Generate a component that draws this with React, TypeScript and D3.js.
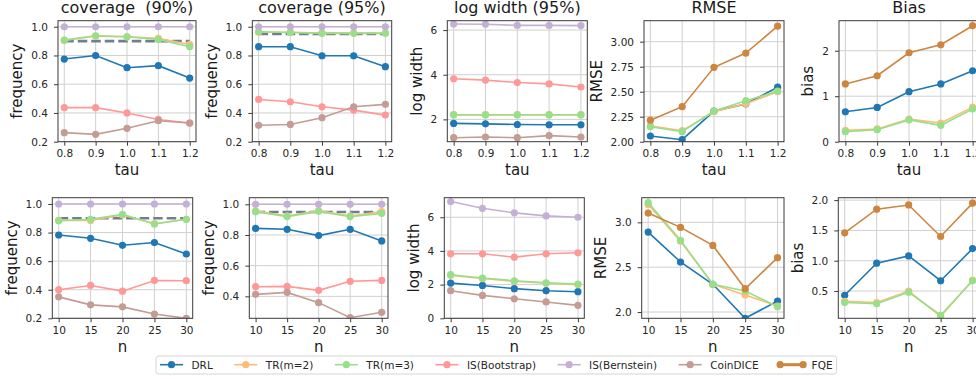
import React, { useEffect, useRef } from 'react';
import * as d3 from 'd3';

const W = 976;
const H = 379;
const FONT = '"DejaVu Sans", Verdana, sans-serif';

const methods = ['DRL', 'TR(m=2)', 'TR(m=3)', 'IS(Bootstrap)', 'IS(Bernstein)', 'CoinDICE', 'FQE'];
const colors = ['#1f77b4', '#ffbb78', '#98df8a', '#ff9896', '#c5b0d5', '#c49c94', '#cd853f'];

const tauValues = [0.8, 0.9, 1.0, 1.1, 1.2];
const nValues = [10, 15, 20, 25, 30];

// series order: DRL, TR(m=2), TR(m=3), IS(Bootstrap), IS(Bernstein), CoinDICE
const cov90Tau = [
  [0.775, 0.8, 0.715, 0.729, 0.643],
  [0.905, 0.935, 0.93, 0.919, 0.877],
  [0.907, 0.937, 0.93, 0.912, 0.861],
  [0.437, 0.437, 0.4, 0.355, 0.33],
  [1, 1, 1, 1, 1],
  [0.263, 0.251, 0.293, 0.346, 0.33],
];
const cov95Tau = [
  [0.861, 0.861, 0.798, 0.798, 0.722],
  [0.962, 0.962, 0.956, 0.956, 0.956],
  [0.965, 0.96, 0.954, 0.954, 0.954],
  [0.494, 0.478, 0.443, 0.42, 0.385],
  [1, 1, 1, 1, 1],
  [0.314, 0.32, 0.367, 0.443, 0.46],
];
const widthTau = [
  [1.82, 1.8, 1.77, 1.76, 1.76],
  [2.2, 2.2, 2.2, 2.2, 2.2],
  [2.21, 2.21, 2.21, 2.21, 2.21],
  [3.82, 3.76, 3.65, 3.59, 3.45],
  [6.27, 6.26, 6.21, 6.21, 6.2],
  [1.18, 1.21, 1.18, 1.27, 1.21],
];
// series order: DRL, TR(m=2), TR(m=3), FQE
const rmseTau = [
  [2.057, 2.02, 2.306, 2.377, 2.545],
  [2.16, 2.11, 2.3, 2.38, 2.5],
  [2.15, 2.1, 2.306, 2.41, 2.505],
  [2.215, 2.35, 2.744, 2.886, 3.155],
];
const biasTau = [
  [0.657, 0.753, 1.1, 1.27, 1.56],
  [0.25, 0.28, 0.495, 0.41, 0.76],
  [0.22, 0.265, 0.48, 0.36, 0.72],
  [1.27, 1.45, 1.955, 2.13, 2.55],
];

const cov90N = [
  [0.783, 0.76, 0.711, 0.73, 0.65],
  [0.885, 0.885, 0.923, 0.862, 0.893],
  [0.883, 0.893, 0.928, 0.86, 0.893],
  [0.4, 0.43, 0.39, 0.465, 0.463],
  [1, 1, 1, 1, 1],
  [0.35, 0.294, 0.28, 0.23, 0.2],
];
const cov95N = [
  [0.843, 0.837, 0.796, 0.837, 0.761],
  [0.957, 0.924, 0.959, 0.924, 0.952],
  [0.952, 0.92, 0.954, 0.92, 0.941],
  [0.463, 0.465, 0.439, 0.498, 0.504],
  [1, 1, 1, 1, 1],
  [0.413, 0.426, 0.359, 0.261, 0.296],
];
const widthN = [
  [2.09, 1.95, 1.76, 1.64, 1.58],
  [2.55, 2.36, 2.2, 2.08, 2.0],
  [2.59, 2.39, 2.23, 2.11, 2.03],
  [3.83, 3.83, 3.63, 3.83, 3.89],
  [6.93, 6.53, 6.26, 6.08, 6.0],
  [1.64, 1.36, 1.16, 0.97, 0.77],
];
const rmseN = [
  [2.892, 2.558, 2.309, 1.93, 2.123],
  [3.2, 2.79, 2.31, 2.19, 2.067],
  [3.22, 2.8, 2.31, 2.235, 2.06],
  [3.104, 2.944, 2.743, 2.26, 2.606],
];
const biasN = [
  [0.43, 0.96, 1.08, 0.67, 1.2],
  [0.33, 0.31, 0.5, 0.08, 0.68],
  [0.31, 0.29, 0.48, 0.1, 0.67],
  [1.46, 1.85, 1.92, 1.4, 1.95],
];

const coverageMethods = [0, 1, 2, 3, 4, 5];
const errorMethods = [0, 1, 2, 6];

interface Panel {
  box: [number, number, number, number]; // left, right, top, bottom
  x: number[];
  xDomain: [number, number];
  xFmt: string;
  yDomain: [number, number];
  yTicks: number[];
  yFmt: string;
  title?: string;
  ylabel: string;
  xlabel: string;
  series: number[][];
  ids: number[];
  target?: number;
}

const TOP: [number, number] = [20.7, 141.7];
const BOT: [number, number] = [197.7, 318.3];
const tauDom: [number, number] = [0.78, 1.22];
const nDom: [number, number] = [9, 31];
const freqTicks = [0.2, 0.4, 0.6, 0.8, 1.0];

const panels: Panel[] = [
  { box: [58, 196, ...TOP], x: tauValues, xDomain: tauDom, xFmt: '.1f', yDomain: [0.2, 1.042], yTicks: freqTicks, yFmt: '.1f', title: 'coverage  (90%)', ylabel: 'frequency', xlabel: 'tau', series: cov90Tau, ids: coverageMethods, target: 0.9 },
  { box: [252.3, 391.7, ...TOP], x: tauValues, xDomain: tauDom, xFmt: '.1f', yDomain: [0.2, 1.042], yTicks: freqTicks, yFmt: '.1f', title: 'coverage (95%)', ylabel: 'frequency', xlabel: 'tau', series: cov95Tau, ids: coverageMethods, target: 0.95 },
  { box: [447.3, 587.3, ...TOP], x: tauValues, xDomain: tauDom, xFmt: '.1f', yDomain: [1.0, 6.42], yTicks: [2, 4, 6], yFmt: 'd', title: 'log width (95%)', ylabel: 'log width', xlabel: 'tau', series: widthTau, ids: coverageMethods },
  { box: [644, 784, ...TOP], x: tauValues, xDomain: tauDom, xFmt: '.1f', yDomain: [2.0, 3.21], yTicks: [2.0, 2.25, 2.5, 2.75, 3.0], yFmt: '.2f', title: 'RMSE', ylabel: 'RMSE', xlabel: 'tau', series: rmseTau, ids: errorMethods },
  { box: [839, 979, ...TOP], x: tauValues, xDomain: tauDom, xFmt: '.1f', yDomain: [0, 2.66], yTicks: [0, 1, 2], yFmt: 'd', title: 'Bias', ylabel: 'bias', xlabel: 'tau', series: biasTau, ids: errorMethods },
  { box: [52.3, 192.7, ...BOT], x: nValues, xDomain: nDom, xFmt: 'd', yDomain: [0.2, 1.044], yTicks: freqTicks, yFmt: '.1f', ylabel: 'frequency', xlabel: 'n', series: cov90N, ids: coverageMethods, target: 0.9 },
  { box: [249.3, 388, ...BOT], x: nValues, xDomain: nDom, xFmt: 'd', yDomain: [0.257, 1.043], yTicks: [0.4, 0.6, 0.8, 1.0], yFmt: '.1f', ylabel: 'frequency', xlabel: 'n', series: cov95N, ids: coverageMethods, target: 0.95 },
  { box: [444.3, 584.3, ...BOT], x: nValues, xDomain: nDom, xFmt: 'd', yDomain: [0, 7.16], yTicks: [0, 2, 4, 6], yFmt: 'd', ylabel: 'log width', xlabel: 'n', series: widthN, ids: coverageMethods },
  { box: [641.7, 784, ...BOT], x: nValues, xDomain: nDom, xFmt: 'd', yDomain: [1.93, 3.275], yTicks: [2.0, 2.5, 3.0], yFmt: '.1f', ylabel: 'RMSE', xlabel: 'n', series: rmseN, ids: errorMethods },
  { box: [838.3, 979, ...BOT], x: nValues, xDomain: nDom, xFmt: 'd', yDomain: [0.05, 2.04], yTicks: [0.5, 1.0, 1.5, 2.0], yFmt: '.1f', ylabel: 'bias', xlabel: 'n', series: biasN, ids: errorMethods },
];

export default function App() {
  const svgRef = useRef<SVGSVGElement>(null);

  useEffect(() => {
    if (!svgRef.current) return;
    document.body.style.margin = '0';
    const svg = d3.select(svgRef.current);
    svg.selectAll('*').remove();

    svg.append('rect').attr('width', W).attr('height', H).attr('fill', '#fff');

    panels.forEach((p, pi) => {
      const [l, r, t, b] = p.box;
      const xScale = d3.scaleLinear().domain(p.xDomain).range([l, r]);
      const yScale = d3.scaleLinear().domain(p.yDomain).range([b, t]);
      const g = svg.append('g');

      const clipId = `clip-${pi}`;
      svg.append('clipPath').attr('id', clipId)
        .append('rect').attr('x', l).attr('y', t).attr('width', r - l).attr('height', b - t);

      // grid
      g.append('g').selectAll('line').data(p.x).join('line')
        .attr('x1', d => xScale(d)).attr('x2', d => xScale(d))
        .attr('y1', t).attr('y2', b)
        .attr('stroke', '#d0d0d0').attr('stroke-width', 1);
      g.append('g').selectAll('line').data(p.yTicks).join('line')
        .attr('x1', l).attr('x2', r)
        .attr('y1', d => yScale(d)).attr('y2', d => yScale(d))
        .attr('stroke', '#d0d0d0').attr('stroke-width', 1);

      const plot = g.append('g').attr('clip-path', `url(#${clipId})`);

      if (p.target !== undefined) {
        plot.append('line')
          .attr('x1', xScale(p.x[0])).attr('x2', xScale(p.x[p.x.length - 1]))
          .attr('y1', yScale(p.target)).attr('y2', yScale(p.target))
          .attr('stroke', '#6f7f8f').attr('stroke-width', 2.6)
          .attr('stroke-dasharray', '9.5,4');
      }

      const line = d3.line<number>()
        .x((_, i) => xScale(p.x[i]))
        .y(d => yScale(d));

      p.series.forEach((vals, si) => {
        const c = colors[p.ids[si]];
        plot.append('path').datum(vals)
          .attr('d', line).attr('fill', 'none')
          .attr('stroke', c).attr('stroke-width', 1.6);
        plot.append('g').selectAll('circle').data(vals).join('circle')
          .attr('cx', (_, i) => xScale(p.x[i])).attr('cy', d => yScale(d))
          .attr('r', 3.6).attr('fill', c);
      });

      // spines
      g.append('rect').attr('x', l).attr('y', t).attr('width', r - l).attr('height', b - t)
        .attr('fill', 'none').attr('stroke', '#3a3a3a').attr('stroke-width', 1);

      // axes
      const xAxis = g.append('g').attr('transform', `translate(0,${b})`)
        .call(d3.axisBottom(xScale).tickValues(p.x).tickFormat(d3.format(p.xFmt) as any).tickSizeOuter(0).tickSize(4).tickPadding(4));
      const yAxis = g.append('g').attr('transform', `translate(${l},0)`)
        .call(d3.axisLeft(yScale).tickValues(p.yTicks).tickFormat(d3.format(p.yFmt) as any).tickSizeOuter(0).tickSize(4).tickPadding(6));
      [xAxis, yAxis].forEach(ax => {
        ax.select('.domain').remove();
        ax.attr('font-family', FONT).attr('font-size', 10.5);
        ax.selectAll('line').attr('stroke', '#3a3a3a');
        ax.selectAll('text').attr('fill', '#262626');
      });

      let maxW = 0;
      yAxis.selectAll<SVGTextElement, unknown>('text').each(function () {
        maxW = Math.max(maxW, this.getComputedTextLength());
      });

      // labels
      if (p.title) {
        svg.append('text').attr('x', (l + r) / 2).attr('y', 13)
          .attr('text-anchor', 'middle').attr('font-family', FONT).attr('font-size', 16)
          .attr('fill', '#1a1a1a').style('white-space', 'pre').text(p.title);
      }
      svg.append('text').attr('x', (l + r) / 2).attr('y', b + 33.5)
        .attr('text-anchor', 'middle').attr('font-family', FONT).attr('font-size', 15)
        .attr('fill', '#1a1a1a').text(p.xlabel);
      const lx = l - 10 - maxW - 9;
      svg.append('text')
        .attr('transform', `translate(${lx},${(t + b) / 2}) rotate(-90)`)
        .attr('text-anchor', 'middle').attr('font-family', FONT).attr('font-size', 15)
        .attr('fill', '#1a1a1a').text(p.ylabel);
    });

    // legend
    const leg = svg.append('g');
    const box = leg.append('rect').attr('x', 156).attr('y', 356).attr('height', 18)
      .attr('rx', 2.5).attr('fill', '#fff').attr('fill-opacity', 0.85)
      .attr('stroke', '#d5d5d5').attr('stroke-width', 1);
    let cx = 160;
    const ly = 362.7 + 2;
    methods.forEach((m, i) => {
      const c = colors[i];
      const isFqe = m === 'FQE';
      leg.append('line').attr('x1', cx).attr('x2', cx + 23).attr('y1', ly).attr('y2', ly)
        .attr('stroke', c).attr('stroke-width', isFqe ? 3 : 1.6);
      const pts = isFqe ? [cx, cx + 23] : [cx + 11.5];
      pts.forEach(px => leg.append('circle').attr('cx', px).attr('cy', ly).attr('r', 3.6).attr('fill', c));
      const txt = leg.append('text').attr('x', cx + 31.5).attr('y', ly + 4)
        .attr('font-family', FONT).attr('font-size', 10.5).attr('fill', '#262626').text(m);
      const tw = (txt.node() as SVGTextElement).getComputedTextLength();
      cx = cx + 31.5 + tw + 21.5;
    });
    box.attr('width', cx - 21.5 + 4 - 156);
  }, []);

  return <svg ref={svgRef} width={W} height={H} style={{ display: 'block' }} />;
}
